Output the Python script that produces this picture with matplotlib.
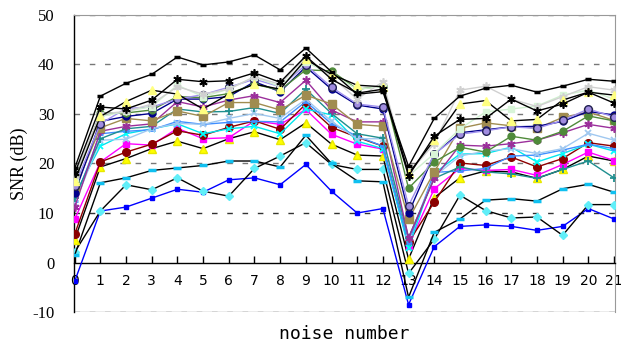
import matplotlib
matplotlib.use("Agg")
import matplotlib.pyplot as plt
import numpy as np

noise_numbers = list(range(22))
x_tick_labels = [str(i) for i in noise_numbers]
y_ticks = [-10, 0, 10, 20, 30, 40, 50]

s_black_dash = [19, 33.6, 36.2, 38, 41.5, 39.9, 40.5, 41.9, 38.9, 43.3, 38.5, 34, 34.5, 19.4, 29.1, 33.6, 35.2, 35.8, 34.4, 35.6, 37, 36.6]
s_black_star = [18, 31.4, 31, 32.8, 37, 36.5, 36.7, 38.3, 36.4, 41.7, 37, 34.2, 35, 17.5, 25.5, 28.9, 29.1, 33, 30.6, 32, 34.4, 32.2]
s_pale_yellow = [16.5, 29.5, 32.5, 34.8, 34, 31, 34, 36, 35, 41, 38, 35.8, 35.5, 18, 24.7, 32, 32.7, 28.6, 28.9, 32.8, 34.4, 33.8]
s_gray_star = [17.5, 30, 30.5, 32, 35.5, 34, 35, 37.5, 36, 41.5, 37.5, 33, 36.5, 18, 24, 34.8, 35.6, 33, 31.5, 33.5, 35.5, 34.8]
s_pale_green = [17, 29.5, 30.5, 31.5, 35.8, 33.5, 35, 37.5, 35.5, 40.5, 38, 35, 35.5, 17.5, 22, 27, 30.4, 31, 31.6, 33.8, 34.8, 33]
s_lavender = [15.5, 28, 31.1, 31.4, 33, 33.9, 35.4, 37, 35.5, 39.9, 35.4, 32, 31.4, 11.5, 21.9, 25.9, 26.6, 27.4, 27.1, 28.7, 31, 29.4]
s_green = [16.4, 30.2, 30.2, 30.8, 33.5, 33.3, 34.1, 36, 34.8, 38.9, 38.7, 35, 35.6, 15, 20.3, 23.3, 22.3, 25.5, 24.7, 26.5, 29.6, 28.6]
s_navy = [14, 28.5, 29.5, 30.1, 33, 33, 33.5, 36.5, 34.5, 39.5, 35, 31.8, 31, 10, 21.9, 26.2, 26.8, 27.4, 27.5, 28.5, 30.5, 29.8]
s_olive = [14.8, 27.2, 29.1, 28.6, 30.6, 29.5, 32.3, 32.3, 30.8, 33.8, 32, 27.9, 27.5, 8.7, 18.3, 27.1, 28.2, 27.6, 27.1, 29.3, 30.4, 28.7]
s_purple = [11.2, 26.5, 27.5, 28, 32.5, 31.4, 32.8, 33.7, 32.3, 36.8, 30.8, 28.4, 28.4, 5, 17, 23.7, 23.5, 24, 24.7, 26.2, 27.9, 27.1]
s_teal = [13, 25, 27, 27.5, 31, 30.4, 30.5, 31.3, 30.1, 35, 30.1, 26, 25.1, 5, 17, 19.3, 18.3, 17.9, 17, 18.8, 20.5, 17.1]
s_lightblue = [12, 24.7, 24.9, 27, 28.1, 27.9, 29.1, 30.1, 29.1, 33, 28.5, 25, 25, 5, 17.4, 21.5, 22.5, 23, 22, 23, 26.1, 24.7]
s_dodger = [12.5, 26, 26.5, 26.8, 28.5, 27.9, 28.3, 28.5, 28.4, 32.5, 28, 25.5, 23.5, 4, 18.2, 18.5, 19, 21.5, 21.7, 22.7, 23.9, 23]
s_cyan_x = [13.6, 23.5, 26, 27, 28, 26, 27, 27.5, 26, 31, 29.8, 24.5, 23, 3, 18, 21.9, 22, 23.3, 20.3, 22, 23.9, 22.5]
s_darkred = [5.7, 20.3, 22.3, 23.9, 26.6, 25.7, 27.3, 28.6, 26.9, 32, 27.3, 25.3, 23.5, 4.1, 12.2, 20.1, 19.6, 21.3, 19.3, 21, 24.2, 23.5]
s_magenta = [8.7, 20.3, 24, 23.7, 27.1, 25, 25.2, 28.6, 27.9, 30.9, 25.9, 23.9, 22.9, 3.4, 14.9, 19, 18.6, 18.8, 17.6, 19.8, 22.3, 20.6]
s_yellow = [4.6, 19.3, 21, 23, 24.5, 23, 25, 26.4, 24.8, 28.2, 23.9, 21.7, 21.5, 0.7, 13.1, 17.1, 18.5, 18.3, 17, 18.8, 21.5, 20.5]
s_cyan_dash = [1.5, 16.1, 17.1, 18.6, 19.1, 19.6, 20.5, 20.5, 19.3, 25.7, 20, 16.5, 16.3, -7, 6.1, 8.8, 12.6, 12.9, 12.4, 14.9, 15.8, 14.2]
s_cyan_diamond = [2.1, 10.4, 15.7, 14.7, 17.1, 14.4, 13.4, 19, 21.5, 24.2, 19.8, 18.8, 18.8, -2.2, 4.7, 13.6, 10.5, 9, 9.2, 5.5, 11.7, 11.7]
s_blue = [-3.8, 10.4, 11.2, 13, 14.8, 14.2, 16.7, 17.1, 15.7, 19.8, 14.4, 10, 10.9, -8.5, 3.2, 7.3, 7.6, 7.3, 6.5, 7.3, 10.9, 8.8]

star = (6, 2, 0)
series = [
    (s_blue, dict(color='#0000FF', marker='s', ms=2.5, mfc='#0000FF', mec='#0000FF')),
    (s_cyan_diamond, dict(color='black', marker='D', ms=4, mfc='#60EEF8', mec='#60EEF8')),
    (s_cyan_dash, dict(color='black', marker='_', ms=6, mew=2.5, mec='#10C0F0')),
    (s_yellow, dict(color='black', marker='^', ms=6, mfc='#FFFF00', mec='#E8E800')),
    (s_magenta, dict(color='#FF00FF', marker='s', ms=5, mfc='#FF00FF', mec='#FF00FF')),
    (s_darkred, dict(color='#8B0000', marker='o', ms=5.5, mfc='#8B0000', mec='#8B0000')),
    (s_cyan_x, dict(color='#00E5EE', marker='x', ms=5, mew=1.3, mec='#00FFFF')),
    (s_dodger, dict(color='#3F8FFF', marker='_', ms=5, mew=2, mec='#3F8FFF')),
    (s_lightblue, dict(color='#A0C8F0', marker='x', ms=5, mew=1.3, mec='#A0C8F0')),
    (s_teal, dict(color='#1F8F8F', marker='+', ms=6, mew=1.3, mec='#1F8F8F')),
    (s_purple, dict(color='#9B2F9B', marker=star, ms=6, mew=1.2, mec='#9B2F9B')),
    (s_olive, dict(color='#A08C50', marker='s', ms=5.5, mfc='#A08C50', mec='#A08C50')),
    (s_navy, dict(color='#00008B', marker='o', ms=5, mfc='#00008B', mec='#00008B')),
    (s_green, dict(color='#4F8A3A', marker='o', ms=5, mfc='#4F8A3A', mec='#4F8A3A')),
    (s_lavender, dict(color='#9F8FEF', marker='o', ms=5.5, mfc='#A08CE0', mec='#202050')),
    (s_pale_green, dict(color='#D0F0D0', marker='s', ms=5, mfc='#D8F5D8', mec='#D8F5D8')),
    (s_gray_star, dict(color='#D0D0D0', marker=star, ms=6, mew=1.2, mec='#D0D0D0')),
    (s_pale_yellow, dict(color='black', marker='^', ms=6, mfc='#FFFF80', mec='#FFFF80')),
    (s_black_star, dict(color='black', marker=star, ms=6, mew=1.2, mec='black')),
    (s_black_dash, dict(color='black', marker='_', ms=5, mew=2.5, mec='black')),
]

fig = plt.figure(figsize=(6.21, 3.46), dpi=100)
ax = fig.add_axes([0.119, 0.098, 0.871, 0.859])

for yv in [10, 20, 30, 40, 50, -10]:
    col = '#333333' if yv == 10 else '#777777'
    ax.axhline(yv, color=col, lw=1, ls=(0, (4, 7)), zorder=1)
ax.axhline(-10, color='#999999', lw=1, zorder=1)

for vals, kw in series:
    ax.plot(noise_numbers, vals, lw=1, zorder=3, **kw)

ax.set_xlim(-0.03, 21.03)
ax.set_ylim(-10, 50)
ax.set_xticks(noise_numbers)
ax.set_xticklabels(x_tick_labels, family='Liberation Serif', fontsize=12)
ax.set_yticks(y_ticks)
ax.set_yticklabels([str(v) for v in y_ticks], family='Liberation Serif', fontsize=12)

ax.spines['bottom'].set_position(('data', 0))
ax.spines['bottom'].set_linewidth(1)
ax.spines['left'].set_linewidth(1)
ax.spines['top'].set_color('#999999')
ax.spines['right'].set_color('#999999')
ax.tick_params(axis='x', direction='in', length=5, width=1, pad=8)
ax.tick_params(axis='y', length=0, pad=14)

ax.set_ylabel('SNR (dB)', family='Liberation Serif', fontsize=13, labelpad=3)
fig.text(0.555, 0.035, 'noise number', family='DejaVu Sans Mono', fontsize=13, ha='center', va='center')

fig.savefig('out.png', dpi=100)
